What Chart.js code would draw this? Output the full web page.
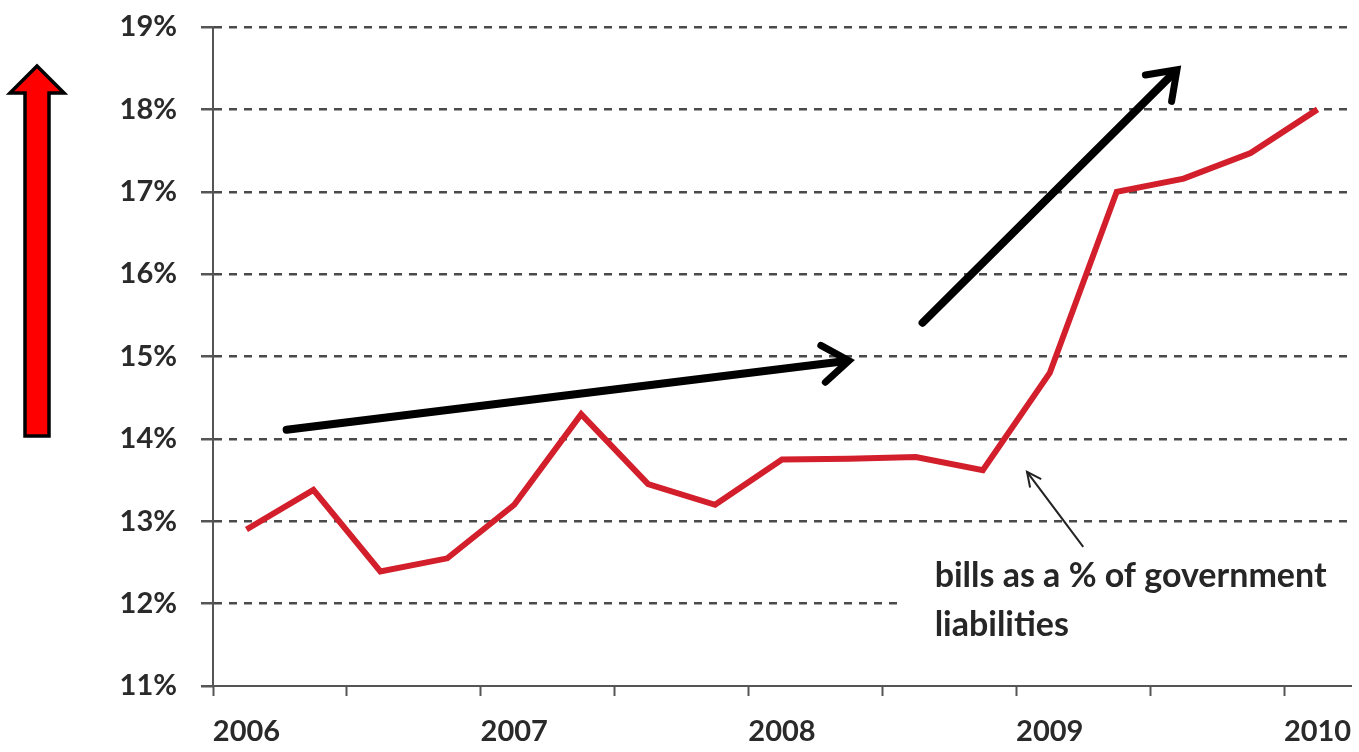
<!DOCTYPE html>
<html>
<head>
<meta charset="utf-8">
<script src="https://cdn.jsdelivr.net/npm/chart.js"></script>
<style>
  html, body { margin: 0; padding: 0; background: #fff; }
  #wrap { width: 1359px; height: 752px; position: relative; }
</style>
</head>
<body>
<div id="wrap"><canvas id="billsChart"></canvas></div>
<script>
// quarterly points, year label on the first quarter
const quarters = ['2006', '', '', '', '2007', '', '', '', '2008', '', '', '', '2009', '', '', '', '2010'];
const billsShare = [12.9, 13.38, 12.39, 12.55, 13.2, 14.3, 13.45, 13.2, 13.75, 13.76, 13.78, 13.62, 14.8, 17.0, 17.16, 17.47, 18.0];
const yMin = 11;
const yMax = 19;
const noteLines = ['bills as a % of government', 'liabilities'];

// hand drawn arrows, in (category index, percent)
const trendArrows = [
  { from: [0.6, 14.11], to: [9.0, 14.95] },
  { from: [10.1, 15.41], to: [13.9, 18.48] }
];
const noteArrow = { from: [12.5, 12.69], to: [11.66, 13.6] };

function arrowHead(ctx, x1, y1, x2, y2, len, spread) {
  const a = Math.atan2(y2 - y1, x2 - x1);
  ctx.beginPath();
  ctx.moveTo(x2 - len * Math.cos(a - spread), y2 - len * Math.sin(a - spread));
  ctx.lineTo(x2, y2);
  ctx.lineTo(x2 - len * Math.cos(a + spread), y2 - len * Math.sin(a + spread));
  ctx.stroke();
}

const annotations = {
  id: 'annotations',
  afterDraw(chart) {
    const { ctx, scales: { x, y }, chartArea } = chart;
    ctx.save();

    // white box behind the note
    const bx = x.getPixelForValue(9.73);
    const by = y.getPixelForValue(12.75);
    ctx.fillStyle = '#fff';
    ctx.fillRect(bx, by, chartArea.right - bx + 4, y.getPixelForValue(11.3) - by);

    ctx.fillStyle = '#262626';
    ctx.font = 'bold 34px Lato';
    ctx.textBaseline = 'middle';
    ctx.fillText(noteLines[0], x.getPixelForValue(10.28), y.getPixelForValue(12.33));
    ctx.fillText(noteLines[1], x.getPixelForValue(10.28), y.getPixelForValue(11.74));

    // thin pointer to the line
    ctx.strokeStyle = '#222';
    ctx.lineWidth = 2;
    let x1 = x.getPixelForValue(noteArrow.from[0]), y1 = y.getPixelForValue(noteArrow.from[1]);
    let x2 = x.getPixelForValue(noteArrow.to[0]), y2 = y.getPixelForValue(noteArrow.to[1]);
    ctx.beginPath();
    ctx.moveTo(x1, y1);
    ctx.lineTo(x2, y2);
    ctx.stroke();
    arrowHead(ctx, x1, y1, x2, y2, 16, 0.45);

    // big trend arrows
    ctx.strokeStyle = '#000';
    ctx.lineCap = 'round';
    trendArrows.forEach(a => {
      const ax1 = x.getPixelForValue(a.from[0]), ay1 = y.getPixelForValue(a.from[1]);
      const ax2 = x.getPixelForValue(a.to[0]), ay2 = y.getPixelForValue(a.to[1]);
      const ang = Math.atan2(ay2 - ay1, ax2 - ax1);
      ctx.lineWidth = 8;
      ctx.beginPath();
      ctx.moveTo(ax1, ay1);
      ctx.lineTo(ax2 - 3 * Math.cos(ang), ay2 - 3 * Math.sin(ang));
      ctx.stroke();
      ctx.lineWidth = 7;
      arrowHead(ctx, ax1, ay1, ax2, ay2, 32, 0.62);
    });

    // red block arrow at the far left
    ctx.beginPath();
    ctx.moveTo(37, 66);
    ctx.lineTo(64, 93);
    ctx.lineTo(49, 93);
    ctx.lineTo(49, 436);
    ctx.lineTo(25, 436);
    ctx.lineTo(25, 93);
    ctx.lineTo(10, 93);
    ctx.closePath();
    ctx.fillStyle = '#ff0000';
    ctx.fill();
    ctx.lineWidth = 3.5;
    ctx.lineJoin = 'miter';
    ctx.strokeStyle = '#000';
    ctx.stroke();

    ctx.restore();
  }
};

new Chart(document.getElementById('billsChart'), {
  type: 'line',
  data: {
    labels: quarters,
    datasets: [{
      data: billsShare,
      borderColor: '#d21f2b',
      borderWidth: 6,
      pointRadius: 0,
      tension: 0,
      fill: false
    }]
  },
  options: {
    responsive: true,
    maintainAspectRatio: false,
    animation: false,
    layout: { padding: { top: 27, right: 8, bottom: 0, left: 0 } },
    plugins: {
      legend: { display: false },
      tooltip: { enabled: false }
    },
    scales: {
      x: {
        offset: true,
        afterFit: scale => {
          scale.height = 66;
          scale.paddingLeft = 0;
          scale.paddingRight = 0;
        },
        grid: {
          offset: true,
          drawOnChartArea: false,
          tickLength: 10,
          tickWidth: 2,
          tickColor: ctx => ctx.index % 2 === 0 ? '#555' : 'rgba(0,0,0,0)'
        },
        border: { color: '#555', width: 2 },
        ticks: {
          autoSkip: false,
          maxRotation: 0,
          padding: 18,
          color: '#2a2a2a',
          font: { family: 'Lato', size: 29, weight: 'bold' }
        }
      },
      y: {
        min: yMin,
        max: yMax,
        afterFit: scale => {
          scale.width = 213;
          scale.paddingTop = 0;
          scale.paddingBottom = 0;
        },
        grid: {
          color: ctx => ctx.tick && ctx.tick.value === yMin ? 'rgba(0,0,0,0)' : '#4a4a4a',
          lineWidth: 2.5,
          tickLength: 12,
          tickColor: '#555',
          tickBorderDash: []
        },
        border: { color: '#555', width: 2, dash: [8, 7] },
        ticks: {
          stepSize: 1,
          padding: 24,
          color: '#2a2a2a',
          font: { family: 'Lato', size: 29, weight: 'bold' },
          callback: v => v + '%'
        }
      }
    }
  },
  plugins: [annotations]
});
</script>
</body>
</html>
